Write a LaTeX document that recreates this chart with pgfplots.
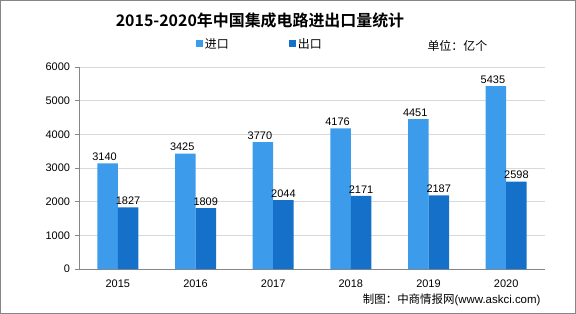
\documentclass[border=0pt]{standalone}
\usepackage{pgfplots}
\pgfplotsset{compat=1.18}
\usepackage{fontspec}
\setmainfont{Liberation Sans}
\newfontfamily\cjk{Noto Sans CJK SC}
\newfontfamily\cjkb{Noto Sans CJK SC Bold}
\definecolor{imp}{RGB}{61,155,235}
\definecolor{exp}{RGB}{20,112,200}
\definecolor{gridc}{RGB}{217,217,217}
\definecolor{axc}{RGB}{134,134,134}
\begin{document}
\begin{tikzpicture}
\path[use as bounding box] (0,0) rectangle (576bp,314bp);
\draw[axc,line width=0.8bp] (0.5bp,0.5bp) rectangle (575.5bp,313.5bp);
\begin{axis}[
  at={(79bp,45bp)}, anchor=south west,
  scale only axis, width=466bp, height=202bp,
  xmin=-0.5, xmax=5.5, ymin=0, ymax=6000,
  ybar=0pt, bar width=20.5bp,
  axis x line*=bottom, axis y line*=left,
  axis line style={axc, line width=0.8bp},
  xtick={0,1,2,3,4,5},
  xticklabels={2015,2016,2017,2018,2019,2020},
  minor xtick={-0.5,0.5,1.5,2.5,3.5,4.5,5.5},
  ytick={0,1000,...,6000},
  ymajorgrids, major grid style={gridc, line width=0.8bp},
  tick align=outside,
  major tick length=4.5bp, minor tick length=4.5bp,
  xtick style={draw=none},
  minor x tick style={axc, line width=0.8bp},
  ytick style={axc, line width=0.8bp},
  ticklabel style={font=\fontsize{11}{13}\selectfont, text=black},
  /pgf/number format/assume math mode=true,
  /pgf/number format/.cd, 1000 sep={}, /pgfplots/.cd,
  yticklabel style={xshift=-1bp},
  xticklabel style={yshift=-3bp},
  nodes near coords,
  every node near coord/.append style={font=\fontsize{11}{13}\selectfont, text=black, inner sep=2.5bp},
  legend style={at={(0.388,1.114)}, anchor=center, draw=none, fill=none,
    legend columns=2, font=\cjk\fontsize{12}{14}\selectfont,
    /tikz/every even column/.append style={column sep=58bp}},
  legend image code/.code={\fill[#1,draw=none] (0bp,-3.5bp) rectangle (7bp,3.5bp);},
  clip=false,
]
\addplot[fill=imp, draw=none, every node near coord/.append style={xshift=-3bp}] coordinates {(0,3140) (1,3425) (2,3770) (3,4176) (4,4451) (5,5435)};
\addplot[fill=exp, draw=none] coordinates {(0,1827) (1,1809) (2,2044) (3,2171) (4,2187) (5,2598)};
\legend{进口,出口}
\end{axis}
\node[font=\cjkb\fontsize{16}{18}\selectfont] at (260bp,294bp) {2015-2020年中国集成电路进出口量统计};
\node[font=\cjk\fontsize{12}{14}\selectfont, anchor=west] at (424bp,268bp) {单位：亿个};
\node[font=\fontsize{11.5}{13}\selectfont, anchor=east] at (544bp,14bp) {{\cjk 制图：中商情报网}(www.askci.com)};
\end{tikzpicture}
\end{document}
